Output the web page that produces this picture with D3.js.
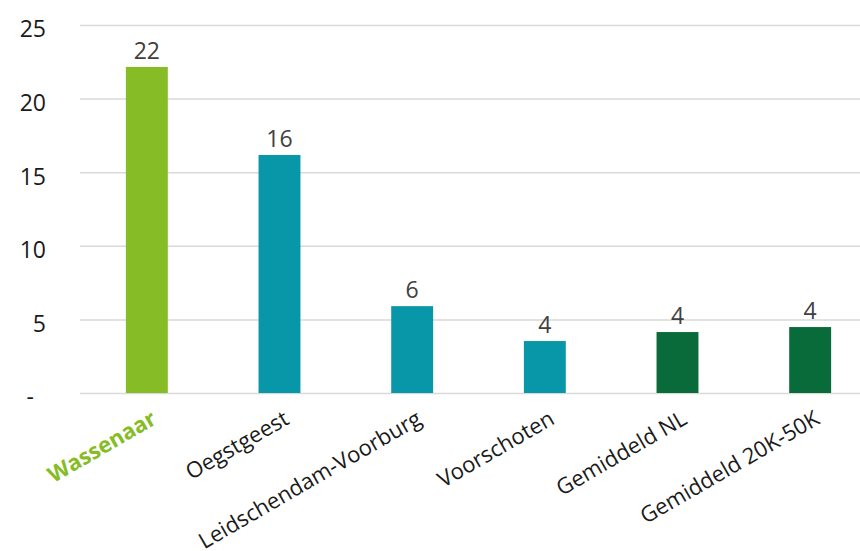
<!DOCTYPE html>
<html>
<head>
<meta charset="utf-8">
<script src="https://cdn.jsdelivr.net/npm/d3@7"></script>
<style>
  body { margin: 0; background: #fff; }
  text { font-family: "Open Sans", sans-serif; }
</style>
</head>
<body>
<div id="chart"></div>
<script>
// data
var categories = ["Wassenaar", "Oegstgeest", "Leidschendam-Voorburg", "Voorschoten", "Gemiddeld NL", "Gemiddeld 20K-50K"];
var values = [22.15, 16.17, 5.9, 3.53, 4.14, 4.48];
var groups = ["highlight", "peer", "peer", "peer", "average", "average"];
var yTicks = [0, 5, 10, 15, 20, 25];

var colors = {highlight: "#86bc25", peer: "#0897a9", average: "#086b39"};

var width = 860, height = 551;
var plotLeft = 80, plotRight = 860, plotTop = 25, plotBottom = 393;

var svg = d3.select("#chart")
  .append("svg")
    .attr("width", width)
    .attr("height", height);

var x = d3.scaleBand()
  .domain(categories)
  .range([80.5, 876.5])
  .paddingInner(0.684)
  .paddingOuter(0.342);

var y = d3.scaleLinear()
  .domain([0, 25])
  .range([plotBottom, plotTop]);

// gridlines + y tick labels
var yAxis = svg.append("g")
  .attr("transform", "translate(" + plotLeft + ",0)")
  .call(d3.axisLeft(y)
    .tickValues(yTicks)
    .tickSize(-(plotRight - plotLeft))
    .tickPadding(34)
    .tickFormat(function(d) { return d === 0 ? "-" : d; }));

yAxis.select(".domain").remove();
yAxis.selectAll(".tick line")
  .attr("stroke", "#d9d9d9")
  .attr("stroke-width", 1.5);
yAxis.selectAll(".tick text")
  .attr("fill", "#1a1a1a")
  .attr("font-size", 23)
  .attr("dy", "0.52em")
  .attr("dx", function(d) { return d === 0 ? -12 : 0; });

// bars
var data = categories.map(function(c, i) { return {name: c, value: values[i], group: groups[i]}; });

svg.selectAll("rect.bar")
  .data(data)
  .enter()
  .append("rect")
    .attr("class", "bar")
    .attr("x", function(d) { return x(d.name); })
    .attr("y", function(d) { return y(d.value); })
    .attr("width", x.bandwidth())
    .attr("height", function(d) { return y(0) - y(d.value); })
    .attr("fill", function(d) { return colors[d.group]; });

// value labels
svg.selectAll("text.val")
  .data(data)
  .enter()
  .append("text")
    .attr("class", "val")
    .attr("x", function(d) { return x(d.name) + x.bandwidth() / 2; })
    .attr("y", function(d) { return y(d.value) - 8; })
    .attr("text-anchor", "middle")
    .attr("font-size", 23)
    .attr("fill", "#404040")
    .text(function(d) { return Math.round(d.value); });

// category labels, rotated
svg.selectAll("text.cat")
  .data(data)
  .enter()
  .append("text")
    .attr("class", "cat")
    .attr("transform", function(d) {
      var cx = x(d.name) + x.bandwidth() / 2 + 11;
      return "translate(" + cx + ",423) rotate(-30)";
    })
    .attr("text-anchor", "end")
    .attr("font-size", 22)
    .attr("font-weight", function(d) { return d.group === "highlight" ? "bold" : "normal"; })
    .attr("fill", function(d) { return d.group === "highlight" ? colors.highlight : "#1a1a1a"; })
    .text(function(d) { return d.name; });
</script>
</body>
</html>
